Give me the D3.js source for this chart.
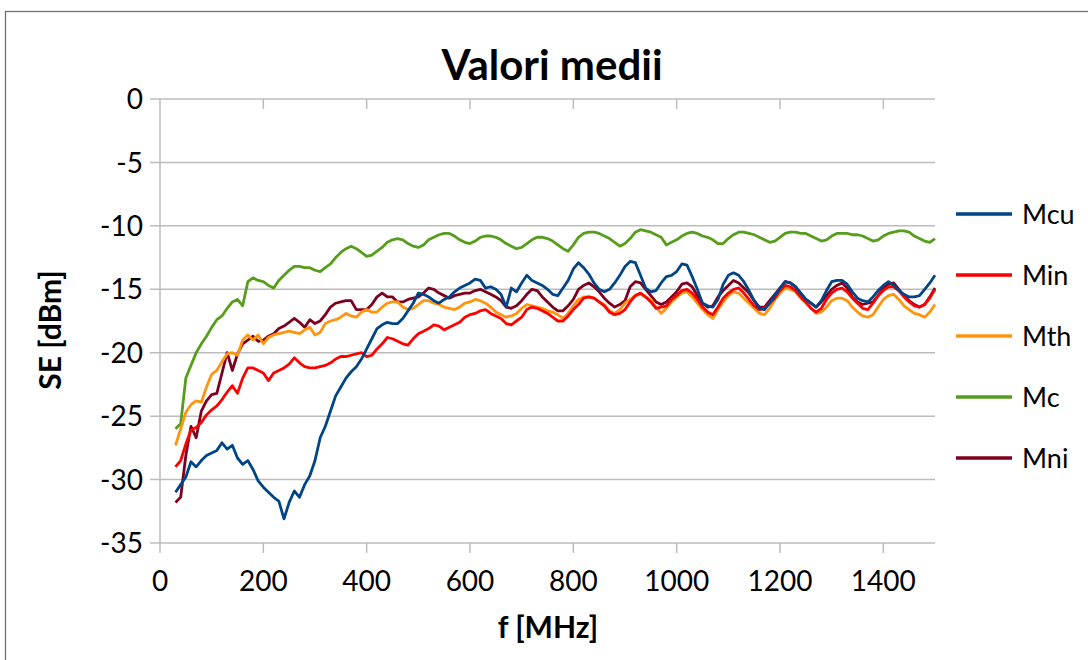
<!DOCTYPE html>
<html lang="en">
<head>
<meta charset="UTF-8">
<script src="https://d3js.org/d3.v7.min.js"></script>
<style>
body{
    margin: 0;
    background: #fff;
}
text{
    font-family: Lato, "Open Sans", sans-serif;
    fill: #000;
}
.gridlines line{
    stroke: #bcbcbc;
    stroke-width: 1.5;
}
.series{
    fill: none;
    stroke-width: 2.8;
    stroke-linejoin: round;
}
</style>
<title>Valori medii</title>
</head>
<body>
<svg class="chart" width="1088" height="660"></svg>
<script>
// frequency points [MHz]
const freq = [
  30, 40, 50, 60, 70, 80, 90, 100, 110, 120,
  130, 140, 150, 160, 170, 180, 190, 200, 210, 220,
  230, 240, 250, 260, 270, 280, 290, 300, 310, 320,
  330, 340, 350, 360, 370, 380, 390, 400, 410, 420,
  430, 440, 450, 460, 470, 480, 490, 500, 510, 520,
  530, 540, 550, 560, 570, 580, 590, 600, 610, 620,
  630, 640, 650, 660, 670, 680, 690, 700, 710, 720,
  730, 740, 750, 760, 770, 780, 790, 800, 810, 820,
  830, 840, 850, 860, 870, 880, 890, 900, 910, 920,
  930, 940, 950, 960, 970, 980, 990, 1000, 1010, 1020,
  1030, 1040, 1050, 1060, 1070, 1080, 1090, 1100, 1110, 1120,
  1130, 1140, 1150, 1160, 1170, 1180, 1190, 1200, 1210, 1220,
  1230, 1240, 1250, 1260, 1270, 1280, 1290, 1300, 1310, 1320,
  1330, 1340, 1350, 1360, 1370, 1380, 1390, 1400, 1410, 1420,
  1430, 1440, 1450, 1460, 1470, 1480, 1490, 1500
];

const Mcu = [
  -31.0, -30.4, -29.8, -28.6, -29.0, -28.5, -28.1, -27.9, -27.7, -27.1,
  -27.6, -27.3, -28.3, -28.8, -28.5, -29.2, -30.1, -30.6, -31.0, -31.4,
  -31.7, -33.1, -31.8, -30.9, -31.4, -30.4, -29.7, -28.5, -26.7, -25.8,
  -24.6, -23.4, -22.7, -22.0, -21.5, -21.1, -20.5, -19.7, -18.9, -18.1,
  -17.8, -17.6, -17.7, -17.7, -17.3, -16.7, -16.1, -15.3, -15.4, -15.6,
  -15.9, -16.1, -15.8, -15.6, -15.2, -14.9, -14.7, -14.5, -14.2, -14.3,
  -14.9, -14.8, -15.0, -15.4, -16.4, -14.9, -15.2, -14.5, -13.9, -14.3,
  -14.5, -14.7, -15.0, -15.4, -15.5, -14.9, -14.3, -13.4, -12.9, -13.3,
  -13.8, -14.5, -15.0, -15.2, -15.0, -14.5, -13.9, -13.2, -12.8, -12.9,
  -13.9, -14.9, -15.2, -15.1, -14.5, -14.0, -13.9, -13.6, -13.0, -13.1,
  -14.0, -15.0, -16.1, -16.3, -16.4, -15.8, -14.6, -13.9, -13.7, -13.9,
  -14.4, -15.1, -15.9, -16.5, -16.6, -16.1, -15.5, -14.9, -14.4, -14.5,
  -14.8, -15.3, -15.8, -16.1, -16.4, -15.9, -15.1, -14.4, -14.3, -14.3,
  -14.6, -15.2, -15.7, -15.9, -16.0, -15.6, -15.1, -14.7, -14.4, -14.7,
  -15.1, -15.4, -15.6, -15.6, -15.5, -15.0, -14.5, -13.9
];

const Min = [
  -29.0, -28.5, -27.2, -26.1, -25.9, -25.5, -24.9, -24.5, -24.2, -23.7,
  -23.1, -22.6, -23.2, -22.0, -21.2, -21.2, -21.4, -21.6, -22.2, -21.6,
  -21.4, -21.2, -20.9, -20.4, -20.8, -21.1, -21.2, -21.2, -21.1, -21.0,
  -20.8, -20.5, -20.3, -20.3, -20.2, -20.1, -20.0, -20.3, -20.2, -19.7,
  -19.3, -18.8, -18.9, -19.1, -19.3, -19.4, -18.9, -18.5, -18.3, -18.1,
  -17.8, -17.9, -18.2, -18.0, -17.8, -17.6, -17.2, -17.0, -16.9, -16.7,
  -16.6, -16.9, -17.1, -17.3, -17.7, -17.8, -17.5, -17.2, -16.6, -16.4,
  -16.5, -16.7, -16.9, -17.2, -17.5, -17.5, -17.1, -16.6, -16.2, -15.7,
  -15.6, -15.7, -16.0, -16.3, -16.8, -17.0, -16.9, -16.6, -16.0, -15.5,
  -15.3, -15.6, -16.0, -16.5, -16.4, -16.3, -15.8, -15.5, -15.1, -15.0,
  -15.3, -15.8, -16.4, -16.8, -17.0, -16.4, -15.7, -15.3, -15.0, -14.9,
  -15.3, -15.8, -16.3, -16.6, -16.5, -16.1, -15.7, -15.1, -14.7, -14.8,
  -15.1, -15.6, -16.0, -16.5, -16.8, -16.5, -15.8, -15.3, -15.0, -14.9,
  -15.2, -15.7, -16.1, -16.5, -16.6, -16.1, -15.5, -15.1, -14.8, -14.8,
  -15.1, -15.6, -16.0, -16.3, -16.4, -16.2, -15.7, -15.0
];

const Mth = [
  -27.3, -26.0, -24.7, -24.1, -23.8, -23.9, -22.7, -21.7, -21.4, -20.7,
  -20.1, -20.0, -20.2, -19.0, -18.6, -19.0, -18.6, -19.3, -18.8, -18.6,
  -18.5, -18.4, -18.3, -18.4, -18.5, -18.2, -18.0, -18.6, -18.4, -17.7,
  -17.5, -17.4, -17.2, -16.9, -17.1, -17.2, -16.8, -16.6, -16.8, -16.8,
  -16.4, -16.1, -16.0, -16.0, -16.4, -16.6, -16.5, -16.2, -15.9, -15.9,
  -16.1, -16.2, -16.4, -16.5, -16.6, -16.4, -16.1, -16.0, -15.8, -15.9,
  -16.1, -16.4, -16.8, -17.0, -17.2, -17.1, -16.9, -16.5, -16.2, -16.3,
  -16.4, -16.5, -16.7, -16.8, -17.0, -17.3, -16.9, -16.3, -15.8, -15.6,
  -15.6, -15.7, -16.0, -16.2, -16.7, -16.9, -16.6, -16.1, -15.8, -15.5,
  -15.4, -15.6, -15.8, -16.4, -16.9, -16.5, -16.0, -15.6, -15.3, -15.2,
  -15.6, -16.1, -16.6, -17.0, -17.3, -16.6, -16.0, -15.5, -15.2, -15.3,
  -15.7, -16.1, -16.5, -16.9, -17.0, -16.5, -15.8, -15.3, -14.9, -15.0,
  -15.2, -15.7, -16.1, -16.5, -16.9, -16.8, -16.4, -15.9, -15.7, -15.7,
  -15.9, -16.4, -16.8, -17.1, -17.2, -17.0, -16.4, -15.8, -15.5, -15.4,
  -15.8, -16.3, -16.6, -16.9, -17.0, -17.2, -16.8, -16.2
];

const Mc = [
  -26.0, -25.6, -22.0, -21.0, -20.0, -19.3, -18.7, -18.0, -17.4, -17.1,
  -16.5, -16.0, -15.8, -16.3, -14.4, -14.1, -14.3, -14.4, -14.7, -14.9,
  -14.3, -13.9, -13.5, -13.2, -13.2, -13.3, -13.3, -13.5, -13.6, -13.3,
  -13.0, -12.5, -12.1, -11.8, -11.6, -11.8, -12.1, -12.4, -12.3, -12.0,
  -11.7, -11.3, -11.1, -11.0, -11.1, -11.4, -11.6, -11.7, -11.5, -11.1,
  -10.9, -10.7, -10.6, -10.6, -10.8, -11.1, -11.3, -11.4, -11.2, -10.9,
  -10.8, -10.8, -10.9, -11.1, -11.4, -11.6, -11.8, -11.7, -11.4, -11.1,
  -10.9, -10.9, -11.0, -11.2, -11.5, -11.8, -12.0, -11.5, -10.9, -10.6,
  -10.5, -10.5, -10.6, -10.8, -11.0, -11.3, -11.6, -11.4, -11.0, -10.5,
  -10.3, -10.4, -10.5, -10.7, -10.9, -11.5, -11.3, -11.1, -10.8, -10.6,
  -10.5, -10.6, -10.8, -10.9, -11.1, -11.4, -11.4, -11.0, -10.7, -10.5,
  -10.5, -10.6, -10.7, -10.9, -11.1, -11.3, -11.2, -10.9, -10.6, -10.5,
  -10.5, -10.6, -10.6, -10.8, -11.0, -11.2, -11.1, -10.8, -10.6, -10.6,
  -10.6, -10.7, -10.7, -10.8, -11.0, -11.2, -11.1, -10.8, -10.6, -10.5,
  -10.4, -10.4, -10.5, -10.8, -11.0, -11.2, -11.3, -11.0
];

const Mni = [
  -31.8, -31.4, -28.1, -25.8, -26.7, -24.6, -23.8, -23.3, -23.2, -21.6,
  -20.0, -21.4, -20.1, -19.3, -19.0, -18.7, -19.1, -19.0, -18.7, -18.5,
  -18.1, -17.9, -17.6, -17.3, -17.6, -18.0, -17.4, -17.7, -17.5, -17.0,
  -16.4, -16.1, -16.0, -15.9, -15.9, -16.6, -16.6, -16.6, -16.2, -15.6,
  -15.3, -15.6, -15.6, -16.0, -16.0, -15.8, -15.7, -15.6, -15.3, -14.9,
  -15.0, -15.3, -15.5, -15.7, -15.5, -15.4, -15.3, -15.3, -15.1, -15.0,
  -15.2, -15.4, -15.6, -15.9, -16.4, -16.5, -16.3, -15.9, -15.4, -15.0,
  -15.1, -15.6, -16.0, -16.4, -16.7, -16.7, -16.3, -15.8, -15.0, -14.7,
  -14.5, -14.8, -15.2, -15.7, -16.1, -16.4, -16.2, -15.9, -14.8, -14.4,
  -14.5, -15.0, -15.5, -16.0, -16.2, -16.0, -15.6, -15.2, -14.6, -14.5,
  -14.8, -15.5, -16.1, -16.4, -16.3, -15.6, -15.1, -14.7, -14.3, -14.5,
  -14.9, -15.3, -15.9, -16.4, -16.4, -15.9, -15.4, -14.9, -14.4, -14.5,
  -14.8, -15.3, -15.8, -16.1, -16.4, -16.0, -15.5, -15.0, -14.7, -14.5,
  -14.9, -15.6, -16.0, -16.2, -16.1, -16.0, -15.5, -14.9, -14.6, -14.5,
  -15.0, -15.5, -15.9, -16.2, -16.4, -16.2, -15.6, -14.9
];

const seriesNames = ['Mcu', 'Min', 'Mth', 'Mc', 'Mni'];
const seriesValues = [Mcu, Min, Mth, Mc, Mni];
const colors = ['#004586', '#ff0000', '#ff950e', '#579d1c', '#7e0021'];
const xTicks = [0, 200, 400, 600, 800, 1000, 1200, 1400];
const yTicks = [0, -5, -10, -15, -20, -25, -30, -35];

let margin = { top: 99, left: 160 },
    width = 775,
    height = 444;

let svg = d3.select('.chart');

// outer frame
svg.append('rect')
    .attr('x', 5.5)
    .attr('y', 11.5)
    .attr('width', 1200)
    .attr('height', 800)
    .attr('fill', '#fff')
    .attr('stroke', '#6f6f6f')
    .attr('stroke-width', 1.3);

let chart = svg.append('g')
    .attr('transform', 'translate(' + margin.left + ',' + margin.top + ')');

let x = d3.scaleLinear().domain([0, 1500]).range([0, width]);
let y = d3.scaleLinear().domain([-35, 0]).range([height, 0]);

// horizontal gridlines, running a little left of the axis
chart.append('g')
    .attr('class', 'gridlines')
    .selectAll('line')
    .data(yTicks)
    .enter().append('line')
    .attr('x1', -10)
    .attr('x2', width)
    .attr('y1', d => y(d))
    .attr('y2', d => y(d));

// vertical axis line
chart.append('g')
    .attr('class', 'gridlines')
    .append('line')
    .attr('x1', 0).attr('x2', 0)
    .attr('y1', 0).attr('y2', height + 10);

// x ticks at the 0 line and at the bottom
chart.append('g')
    .attr('class', 'gridlines')
    .selectAll('line')
    .data(xTicks.filter(d => d > 0))
    .enter().append('line')
    .attr('x1', d => x(d)).attr('x2', d => x(d))
    .attr('y1', 0).attr('y2', 10);
chart.append('g')
    .attr('class', 'gridlines')
    .selectAll('line')
    .data(xTicks.filter(d => d > 0))
    .enter().append('line')
    .attr('x1', d => x(d)).attr('x2', d => x(d))
    .attr('y1', height).attr('y2', height + 10);

// tick labels
chart.selectAll('.ylab')
    .data(yTicks)
    .enter().append('text')
    .attr('class', 'ylab')
    .attr('x', -17)
    .attr('y', d => y(d))
    .attr('dy', '0.36em')
    .attr('text-anchor', 'end')
    .style('font-size', '28px')
    .text(d => d);

chart.selectAll('.xlab')
    .data(xTicks)
    .enter().append('text')
    .attr('class', 'xlab')
    .attr('x', d => x(d))
    .attr('y', height + 48)
    .attr('text-anchor', 'middle')
    .style('font-size', '28px')
    .text(d => d);

// series lines, last one first so Mcu ends on top
let line = d3.line()
    .x((d, i) => x(freq[i]))
    .y(d => y(d));

for (let k = seriesValues.length - 1; k >= 0; k--) {
    chart.append('path')
        .datum(seriesValues[k])
        .attr('class', 'series')
        .attr('stroke', colors[k])
        .attr('d', line);
}

// titles
svg.append('text')
    .attr('x', 552)
    .attr('y', 80)
    .attr('text-anchor', 'middle')
    .style('font-size', '42px')
    .style('font-weight', 'bold')
    .text('Valori medii');

svg.append('text')
    .attr('x', 548)
    .attr('y', 638)
    .attr('text-anchor', 'middle')
    .style('font-size', '30px')
    .style('font-weight', 'bold')
    .text('f [MHz]');

svg.append('text')
    .attr('transform', 'translate(61,330) rotate(-90)')
    .attr('text-anchor', 'middle')
    .style('font-size', '30px')
    .style('font-weight', 'bold')
    .text('SE [dBm]');

// legend
let legend = svg.append('g')
    .selectAll('g')
    .data(seriesNames)
    .enter().append('g')
    .attr('transform', (d, i) => 'translate(956,' + (214 + i * 61) + ')');
legend.append('line')
    .attr('x1', 0).attr('x2', 56)
    .attr('stroke', (d, i) => colors[i])
    .attr('stroke-width', 3.5);
legend.append('text')
    .attr('x', 66)
    .attr('dy', '0.36em')
    .style('font-size', '27px')
    .text(d => d);
</script>
</body>
</html>
